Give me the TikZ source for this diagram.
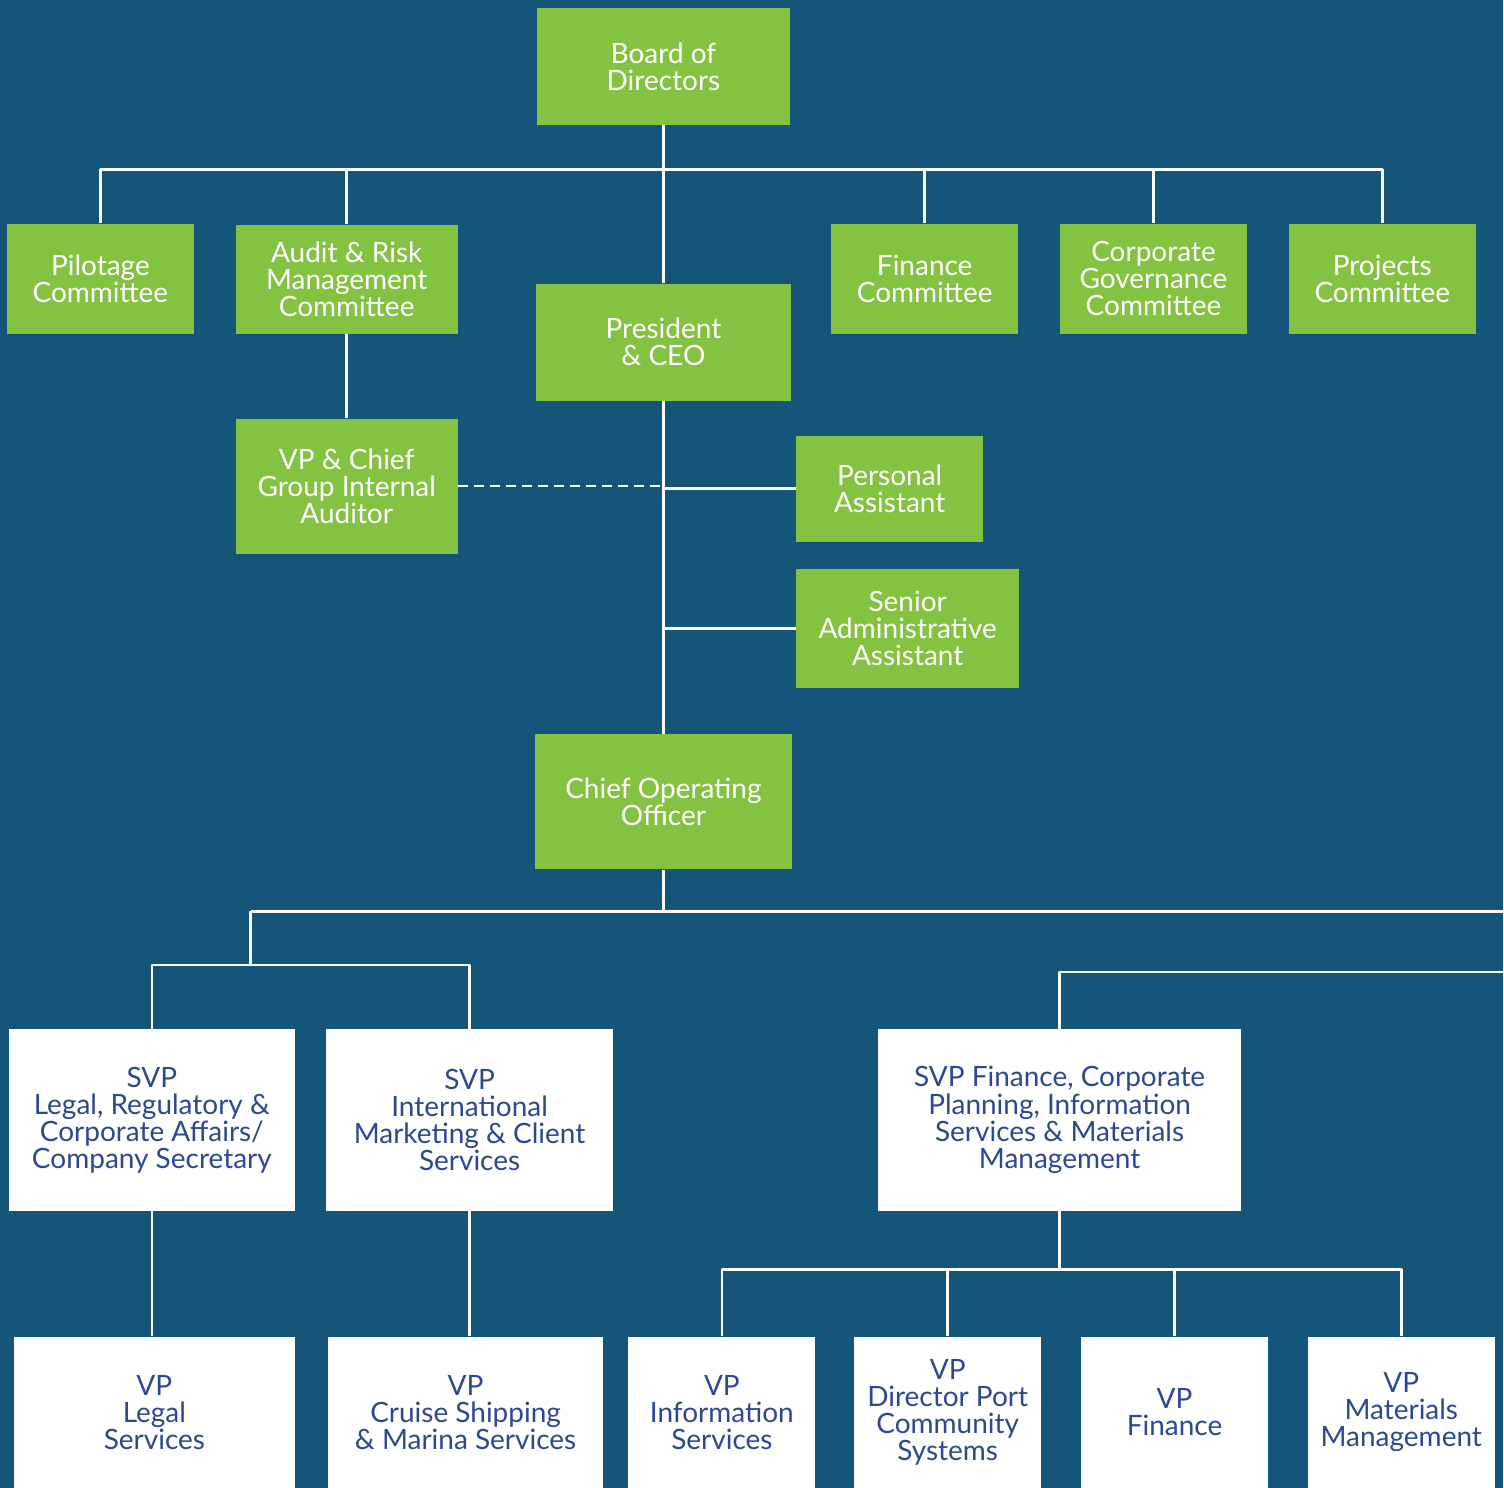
\documentclass[tikz,border=0pt]{standalone}
\usepackage{fontspec}
\setmainfont{Lato}
\definecolor{bgblue}{HTML}{16557A}
\definecolor{leaf}{HTML}{84C341}
\definecolor{navy}{HTML}{2D4892}
\begin{document}
\begin{tikzpicture}[x=0.5pt, y=-0.5pt, font=\fontsize{14}{13.6}\selectfont, line join=round,
  gbox/.style 2 args={fill=leaf, text=white, align=center, inner sep=0pt, minimum width=#1*0.5pt, minimum height=#2*0.5pt},
  wbox/.style 2 args={fill=white, text=navy, align=center, inner sep=0pt, minimum width=#1*0.5pt, minimum height=#2*0.5pt},
  link/.style={draw=white, line width=1.3pt}]
  \fill[bgblue] (0,0) rectangle (1504,1489);
  % board level
  \node[gbox={254}{117}] (board) at (664,66.5) {Board of\\Directors};
  \node[gbox={187}{110}] (pilot) at (100.5,279) {Pilotage\\Committee};
  \node[gbox={222}{109}] (audit) at (347,279.5) {Audit \& Risk\\Management\\Committee};
  \node[gbox={256}{117}] (ceo) at (664,342.5) {President\\\& CEO};
  \node[gbox={187}{110}] (fincom) at (925.5,279) {Finance\\Committee};
  \node[gbox={187}{110}] (govcom) at (1154.5,279) {Corporate\\Governance\\Committee};
  \node[gbox={187}{110}] (projcom) at (1383.5,279) {Projects\\Committee};
  \node[gbox={222}{135}] (auditor) at (347,486.5) {VP \& Chief\\Group Internal\\Auditor};
  \node[gbox={187}{106}] (pa) at (890.5,489) {Personal\\Assistant};
  \node[gbox={223}{120}] (saa) at (908.5,629) {Senior\\Administrative\\Assistant};
  \node[gbox={258}{135}] (coo) at (664,802.5) {Chief Operating\\Officer};
  % senior vice presidents
  \node[wbox={286}{182}] (svplegal) at (152,1121) {SVP\\Legal, Regulatory \&\\Corporate Affairs/\\Company Secretary};
  \node[wbox={288}{182}] (svpintl) at (470,1121) {SVP\\International\\Marketing \& Client\\Services};
  \node[wbox={363}{182}] (svpfin) at (1060.5,1121) {SVP Finance, Corporate\\Planning, Information\\Services \& Materials\\Management};
  % vice presidents
  \node[wbox={281}{151}] (vplegal) at (154.5,1413.5) {VP\\Legal\\Services};
  \node[wbox={276}{151}] (vpcruise) at (466,1413.5) {VP\\Cruise Shipping\\\& Marina Services};
  \node[wbox={187}{151}] (vpinfo) at (722.5,1413.5) {VP\\Information\\Services};
  \node[wbox={187}{151}] (vpport) at (948.5,1413.5) {VP\\Director Port\\Community\\Systems};
  \node[wbox={187}{151}] (vpfin) at (1175.5,1413.5) {VP\\Finance};
  \node[wbox={187}{151}] (vpmat) at (1402.5,1413.5) {VP\\Materials\\Management};
  % connectors
  \draw[link] (board.south) -- ++(0,44) coordinate (topbus);
  \foreach \n in {pilot,audit,fincom,govcom,projcom} \draw[link] (\n.north) |- (topbus);
  \draw[link] (topbus) -- (ceo.north);
  \draw[link] (audit.south) -- (auditor.north);
  \draw[link] (ceo.south) -- (coo.north);
  \draw[link] (pa.west) -- (pa.west -| ceo.south);
  \draw[link] (saa.west) -- (saa.west -| ceo.south);
  \draw[link, dash pattern=on 5pt off 3pt] (auditor.east) -- (auditor.east -| ceo.south);
  \coordinate (rightend) at (1504,912);
  \coordinate (leftend) at (251,912);
  \coordinate (finend) at (1504,973);
  \draw[link] (coo.south) |- (rightend);
  \draw[link] (coo.south) |- (leftend);
  \draw[link] (leftend) -- ++(0,54) coordinate (legalbus);
  \foreach \n in {svplegal,svpintl} \draw[link] (\n.north) |- (legalbus);
  \draw[link] (svpfin.north) |- (finend);
  \draw[link] (svplegal.south) -- (svplegal.south |- vplegal.north);
  \draw[link] (svpintl.south) -- (svpintl.south |- vpcruise.north);
  \draw[link] (svpfin.south) -- ++(0,58) coordinate (vpbus);
  \foreach \n in {vpinfo,vpport,vpfin,vpmat} \draw[link] (\n.north) |- (vpbus);
\end{tikzpicture}
\end{document}
